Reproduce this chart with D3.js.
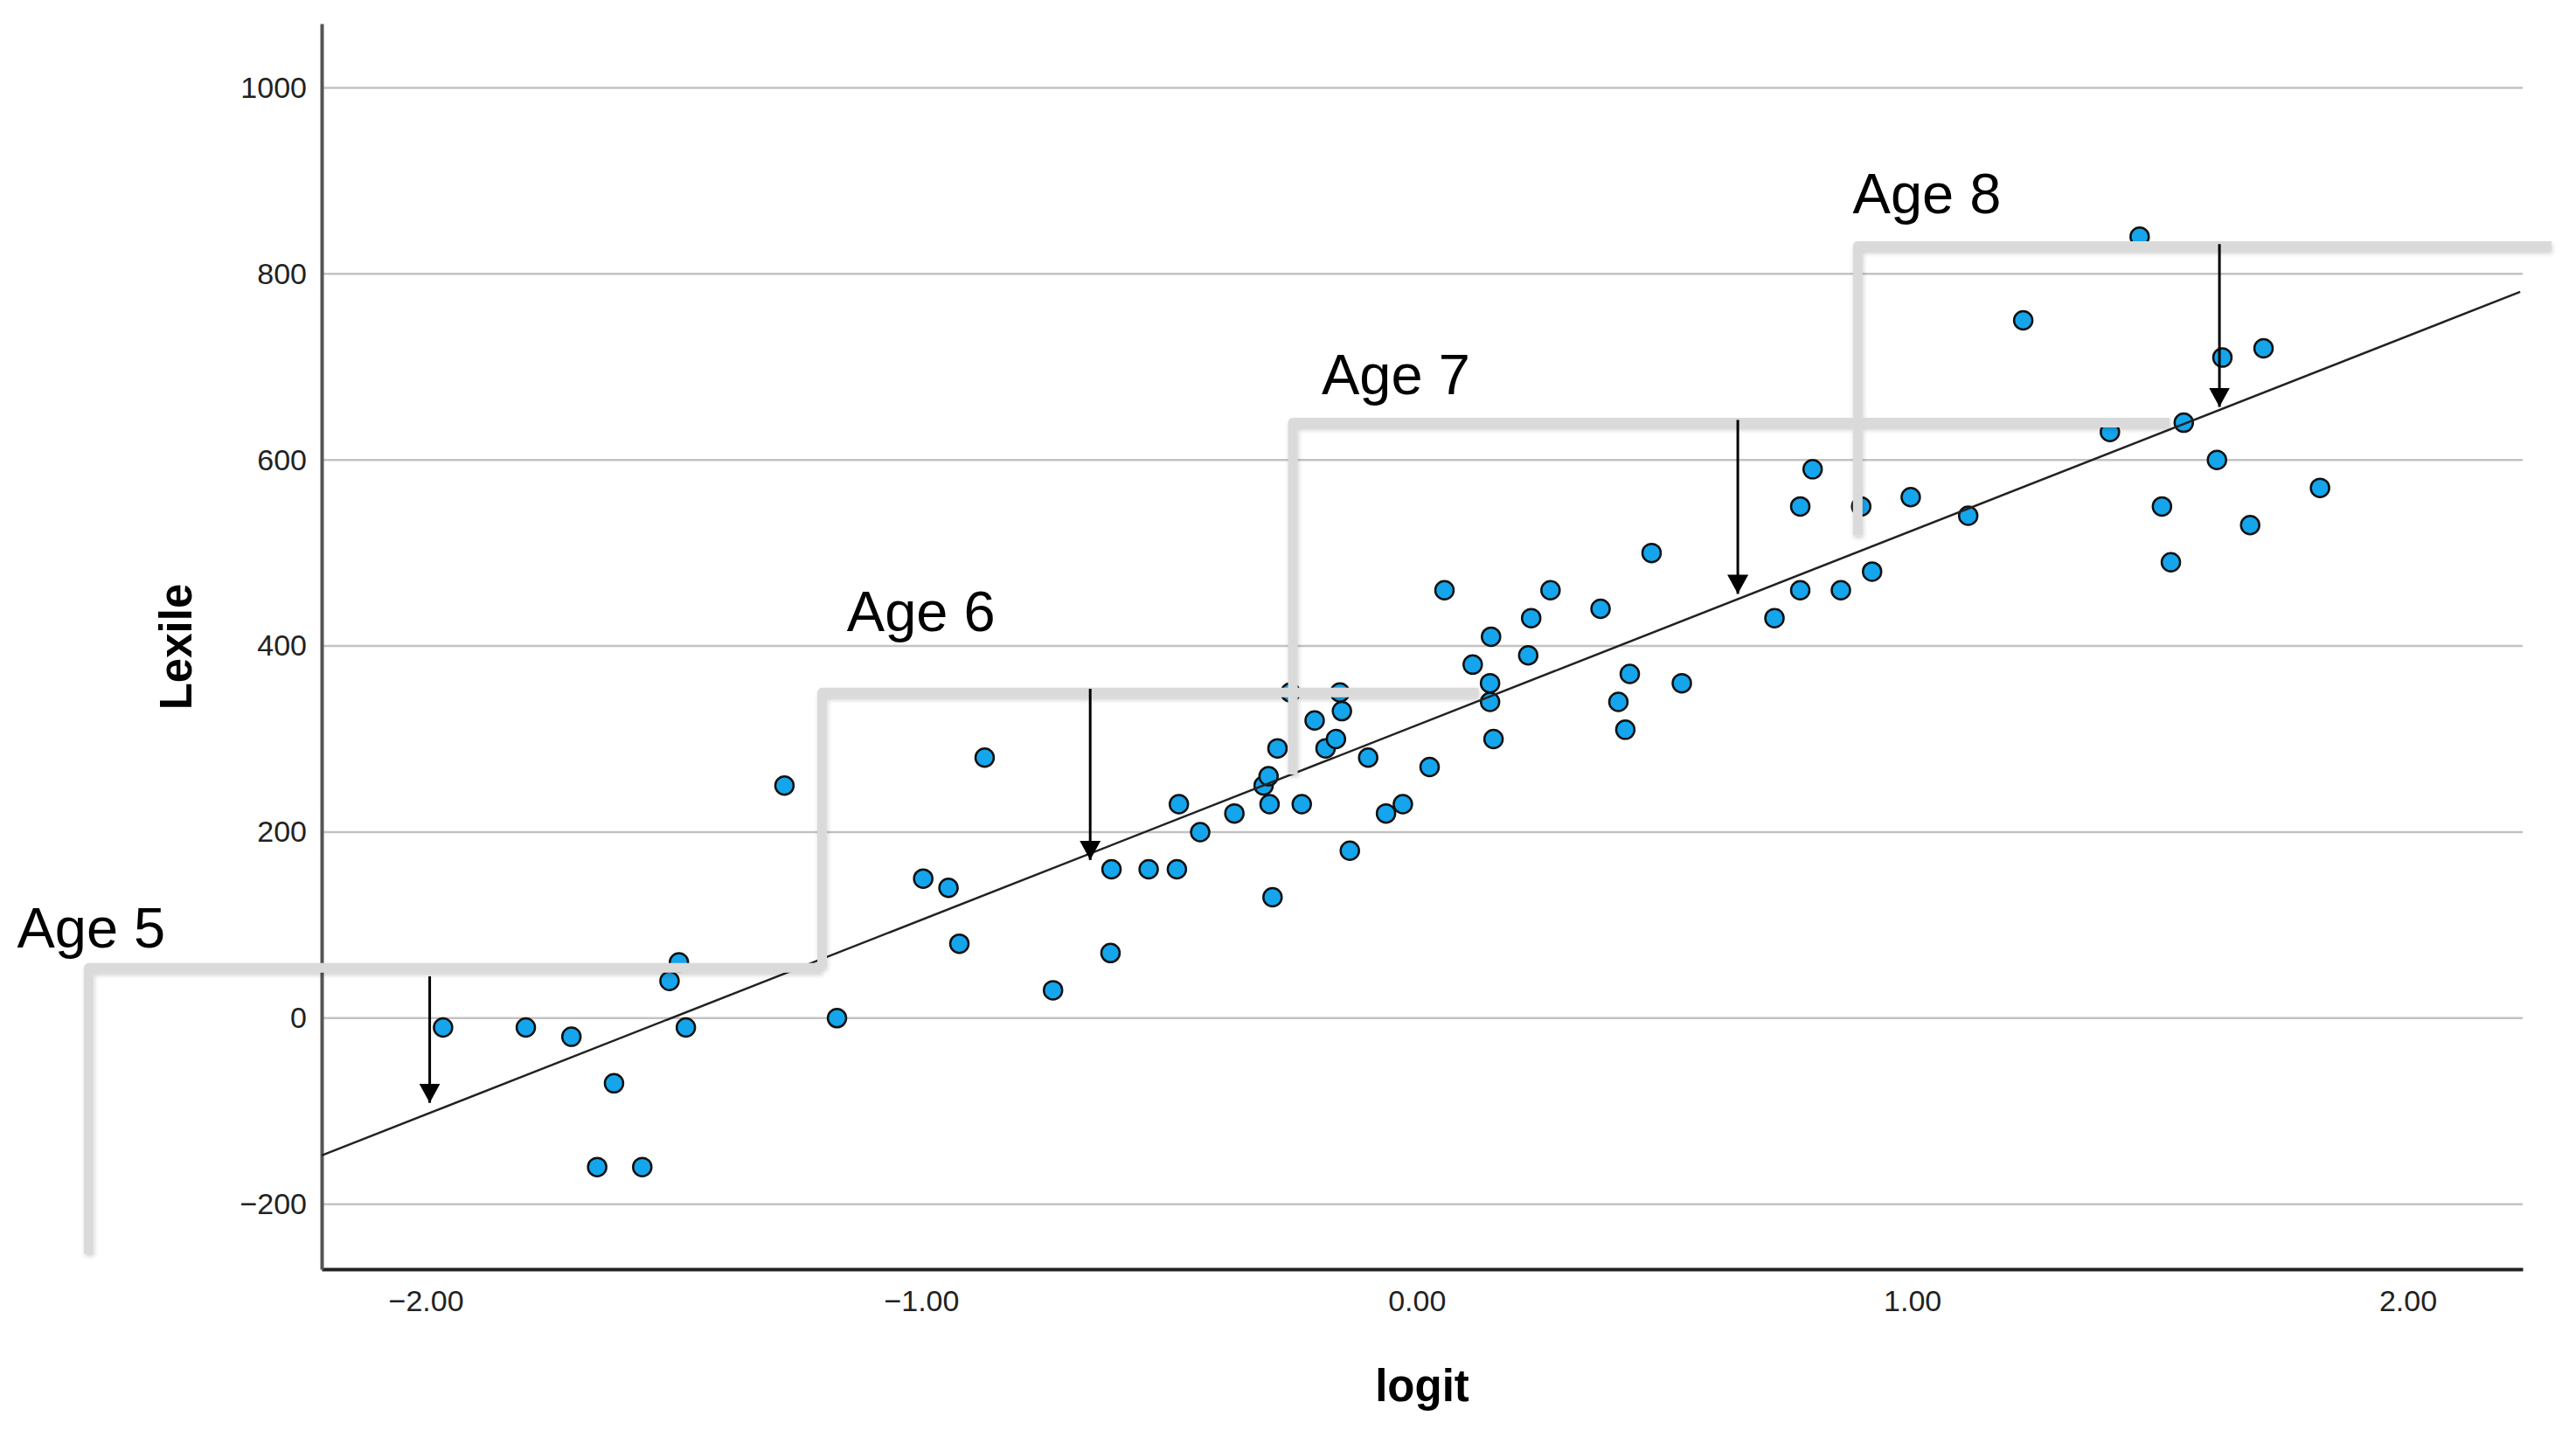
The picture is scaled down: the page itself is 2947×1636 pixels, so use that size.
<!DOCTYPE html>
<html>
<head>
<meta charset="utf-8">
<script src="https://cdn.jsdelivr.net/npm/d3@7"></script>
<style>
  body { margin: 0; background: #fff; }
  svg { display: block; font-family: "Liberation Sans", Arial, sans-serif; }
</style>
</head>
<body>
<div id="chart"></div>
<script>
// Lexile vs logit scatter with age steps

// observed points
const logit = [
  -1.965, -1.798, -1.706, -1.620, -1.654, -1.563, -1.508, -1.489, -1.475, -1.276,
  -1.170, -0.996, -0.945, -0.923, -0.872, -0.734, -0.618, -0.616, -0.541, -0.484,
  -0.480, -0.437, -0.368, -0.309, -0.299, -0.297, -0.291, -0.281, -0.255, -0.232,
  -0.206, -0.184, -0.163, -0.151, -0.155, -0.135, -0.098, -0.062, -0.028, 0.026,
  0.056, 0.113, 0.150, 0.148, 0.148, 0.155, 0.225, 0.231, 0.270, 0.371,
  0.407, 0.421, 0.430, 0.474, 0.535, 0.722, 0.774, 0.774, 0.799, 0.856,
  0.897, 0.919, 0.997, 1.113, 1.224, 1.399, 1.459, 1.504, 1.522, 1.548,
  1.615, 1.626, 1.682, 1.709, 1.823
];
const lexile = [
  -10, -10, -20, -70, -160, -160, 40, 60, -10, 250,
  0, 150, 140, 80, 280, 30, 70, 160, 160, 160,
  230, 200, 220, 250, 260, 230, 130, 290, 350, 230,
  320, 290, 300, 330, 350, 180, 280, 220, 230, 270,
  460, 380, 410, 360, 340, 300, 390, 430, 460, 440,
  340, 310, 370, 500, 360, 430, 460, 550, 590, 460,
  550, 480, 560, 540, 750, 630, 840, 550, 490, 640,
  600, 710, 530, 720, 570
];

// fitted line end points
const fitLine = [
  { logit: -2.21, lexile: -147.5 },
  { logit: 2.227, lexile: 780.7 }
];

// age steps: vertical rise then horizontal run
const ageNames = ["Age 5", "Age 6", "Age 7", "Age 8"];
const stepX = [
  [-2.68, -2.68, -1.20],
  [-1.20, -1.20, 0.125],
  [-0.25, -0.25, 1.52],
  [0.89, 0.89, 2.29]
];
const stepY = [
  [-253, 54, 54],
  [54, 350, 350],
  [262, 640, 640],
  [519, 830, 830]
];
const labelX = [-2.825, -1.15, -0.192, 0.88];
const labelY = [76, 416, 671, 865];

// arrows from step level down to the line
const arrowX = [-1.992, -0.659, 0.648, 1.62];
const arrowTop = [45, 354, 643, 832];
const arrowTip = [-91, 170, 456, 657];

const xTicks = [-2, -1, 0, 1, 2];
const yTicks = [-200, 0, 200, 400, 600, 800, 1000];

const W = 2947, H = 1636;
const margin = { top: 27, right: 61, bottom: 184, left: 368 };

const svg = d3.select("#chart").append("svg")
  .attr("width", W)
  .attr("height", H);

const defs = svg.append("defs");
defs.append("marker")
  .attr("id", "head")
  .attr("viewBox", "0 0 22 24")
  .attr("refX", 22)
  .attr("refY", 12)
  .attr("markerWidth", 22)
  .attr("markerHeight", 24)
  .attr("markerUnits", "userSpaceOnUse")
  .attr("orient", "auto")
  .append("path")
  .attr("d", "M0,0 L22,12 L0,24 Z")
  .attr("fill", "#000");

const shadow = defs.append("filter")
  .attr("id", "soft")
  .attr("x", "-5%").attr("y", "-5%")
  .attr("width", "110%").attr("height", "110%");
shadow.append("feDropShadow")
  .attr("dx", 1).attr("dy", 3)
  .attr("stdDeviation", 2.5)
  .attr("flood-color", "#000")
  .attr("flood-opacity", 0.18);

const x = d3.scaleLinear()
  .domain([-2.21, 2.232])
  .range([margin.left, W - margin.right]);
const y = d3.scaleLinear()
  .domain([-269.8, 1069])
  .range([H - margin.bottom, margin.top]);

// gridlines
svg.append("g")
  .selectAll("line")
  .data(yTicks)
  .join("line")
  .attr("x1", x.range()[0])
  .attr("x2", x.range()[1])
  .attr("y1", d => y(d))
  .attr("y2", d => y(d))
  .attr("stroke", "#c3c3c3")
  .attr("stroke-width", 2.5);

// axes
const xAxis = svg.append("g")
  .attr("transform", `translate(0, ${H - margin.bottom})`)
  .call(d3.axisBottom(x).tickValues(xTicks).tickFormat(d3.format(".2f"))
    .tickSize(0).tickPadding(24));
xAxis.select(".domain").attr("stroke", "#222").attr("stroke-width", 4);

const yAxis = svg.append("g")
  .attr("transform", `translate(${margin.left}, 0)`)
  .call(d3.axisLeft(y).tickValues(yTicks).tickFormat(d3.format("d"))
    .tickSize(0).tickPadding(17));
yAxis.select(".domain").attr("stroke", "#555").attr("stroke-width", 4);

svg.selectAll(".tick text")
  .attr("font-family", "'Liberation Sans', Arial, sans-serif")
  .attr("font-size", 34)
  .attr("fill", "#222");

// axis titles
svg.append("text")
  .attr("x", (x.range()[0] + x.range()[1]) / 2)
  .attr("y", 1603)
  .attr("text-anchor", "middle")
  .attr("font-size", 51)
  .attr("font-weight", "bold")
  .text("logit");

svg.append("text")
  .attr("transform", "translate(219, 740) rotate(-90)")
  .attr("text-anchor", "middle")
  .attr("font-size", 51)
  .attr("font-weight", "bold")
  .text("Lexile");

// points
const points = logit.map((d, i) => ({ logit: d, lexile: lexile[i] }));
svg.append("g")
  .selectAll("circle")
  .data(points)
  .join("circle")
  .attr("cx", d => x(d.logit))
  .attr("cy", d => y(d.lexile))
  .attr("r", 10.5)
  .attr("fill", "#14a5ec")
  .attr("stroke", "#111")
  .attr("stroke-width", 2.5);

// fit line
svg.append("path")
  .datum(fitLine)
  .attr("d", d3.line().x(d => x(d.logit)).y(d => y(d.lexile)))
  .attr("fill", "none")
  .attr("stroke", "#222")
  .attr("stroke-width", 2.5);

// age steps
const stepLine = d3.line().x(d => x(d[0])).y(d => y(d[1]));
svg.append("g")
  .attr("filter", "url(#soft)")
  .selectAll("path")
  .data(stepX.map((xs, i) => xs.map((v, j) => [v, stepY[i][j]])))
  .join("path")
  .attr("d", stepLine)
  .attr("fill", "none")
  .attr("stroke", "#dadada")
  .attr("stroke-width", 11)
  .attr("stroke-linejoin", "round");

// arrows
svg.append("g")
  .selectAll("line")
  .data(arrowX)
  .join("line")
  .attr("x1", d => x(d))
  .attr("x2", d => x(d))
  .attr("y1", (d, i) => y(arrowTop[i]))
  .attr("y2", (d, i) => y(arrowTip[i]))
  .attr("stroke", "#000")
  .attr("stroke-width", 3)
  .attr("marker-end", "url(#head)");

// age labels
svg.append("g")
  .selectAll("text")
  .data(ageNames)
  .join("text")
  .attr("x", (d, i) => x(labelX[i]))
  .attr("y", (d, i) => y(labelY[i]))
  .attr("font-size", 65)
  .attr("fill", "#000")
  .text(d => d);
</script>
</body>
</html>
